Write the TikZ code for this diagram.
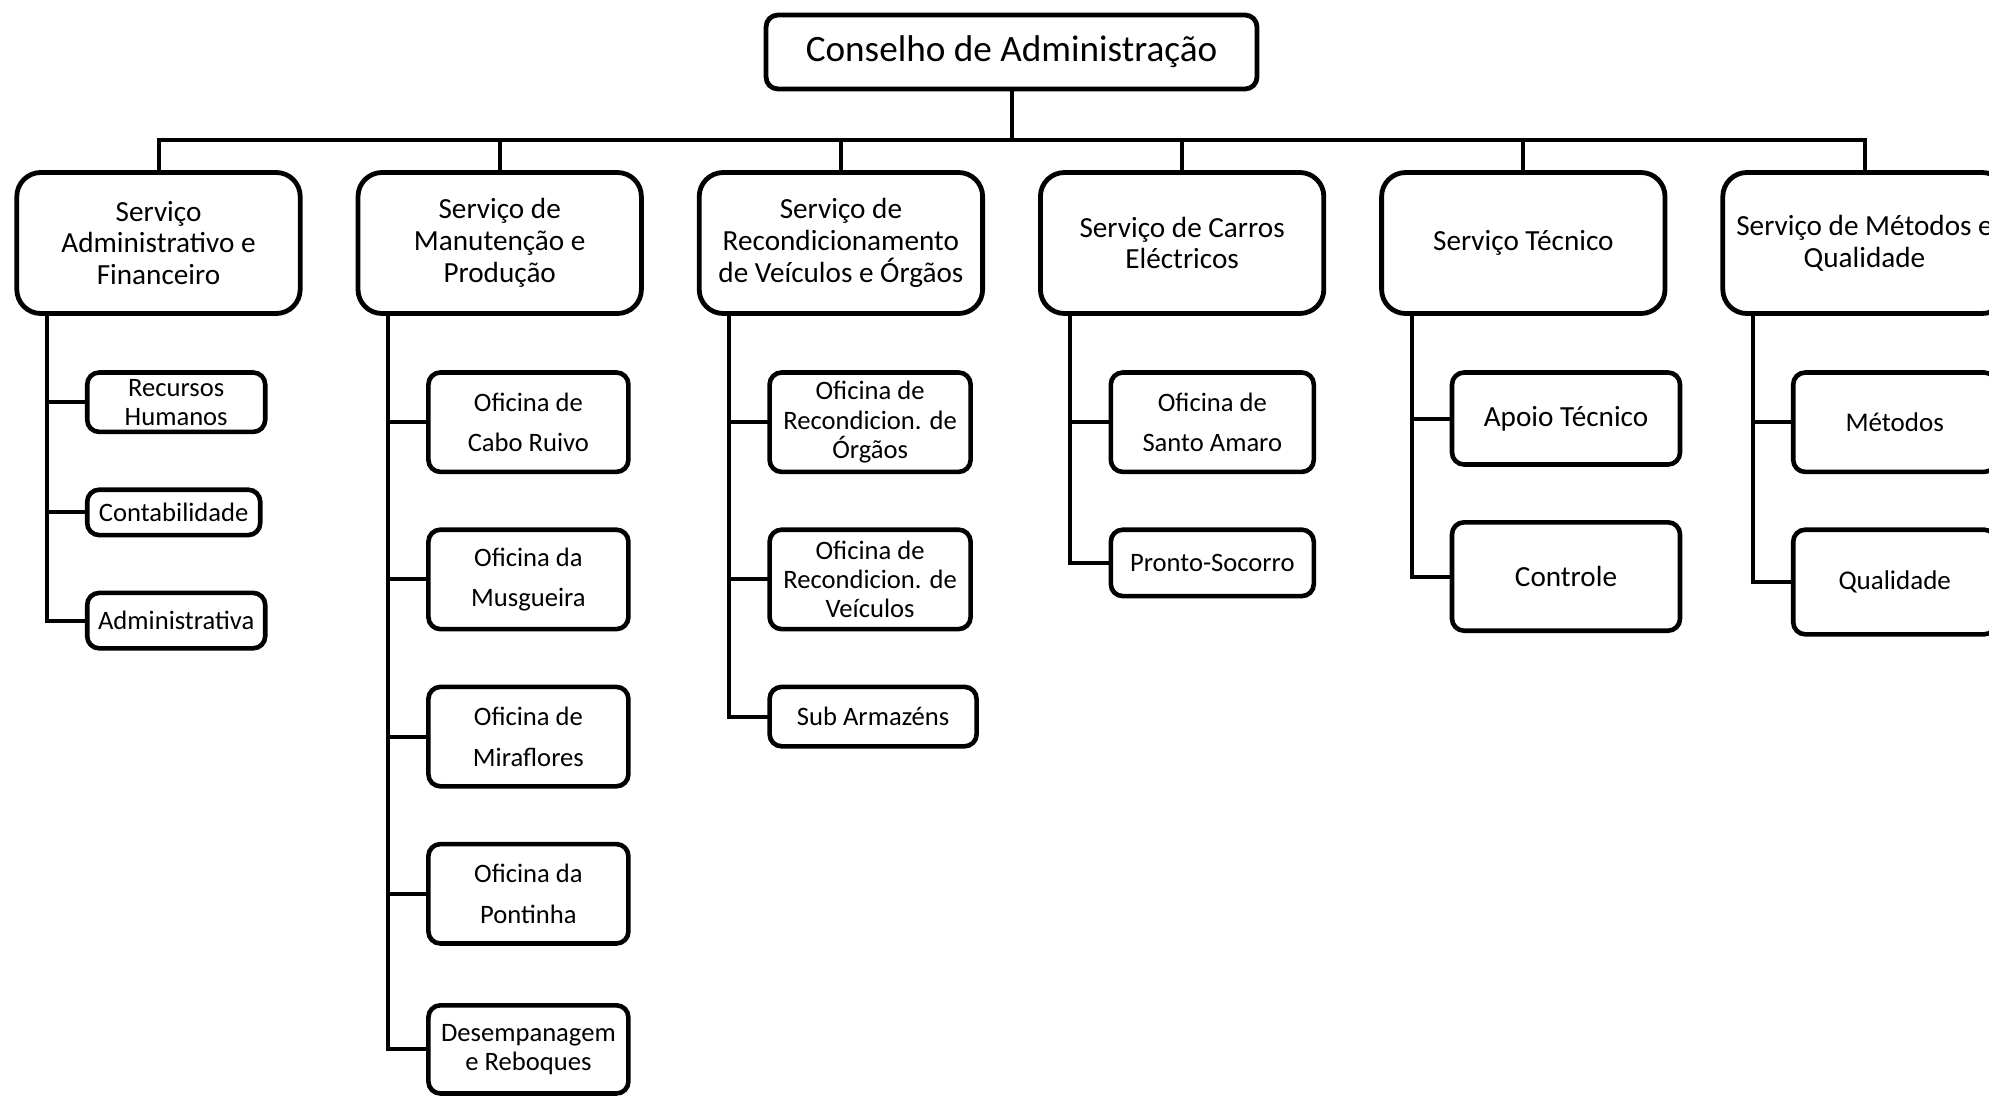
\documentclass[tikz,border=0pt]{standalone}
\usepackage{fontspec}
\setmainfont{Carlito}
\usetikzlibrary{positioning}

\begin{document}
\begin{tikzpicture}[x=1pt, y=1pt, node distance=28.9pt and 28.9pt,
every node/.style={align=center, outer sep=0pt},
chief/.style={draw, rounded corners=6pt, line width=2.4pt, minimum width=245.5pt, minimum height=37pt, font=\fontsize{18.6}{21}\selectfont},
svcbox/.style={draw, rounded corners=12pt, line width=2.4pt, minimum width=141.7pt, minimum height=70.5pt, inner sep=1pt, font=\fontsize{14.6}{15.9}\selectfont},
unitbox/.style={draw, rounded corners=6pt, line width=2.3pt, inner sep=1pt, font=\fontsize{13.3}{14.6}\selectfont},
link/.style={line width=2pt}]

  \useasboundingbox (0,0) rectangle (994.5,-548.5);

  % Board
  \node[chief] (board) at (505.75,-26) {Conselho de Administração};
  \coordinate (bus) at (505.75,-69.75);

  % Services
  \node[svcbox] (saf) at (79.25,-121.5) {Serviço\\Administrativo e\\Financeiro};
  \node[svcbox, right=of saf] (smp) {Serviço de\\Manutenção e\\Produção};
  \node[svcbox, right=of smp] (srv) {Serviço de\\Recondicionamento\\de Veículos e Órgãos};
  \node[svcbox, right=of srv] (sce) {Serviço de Carros\\Eléctricos};
  \node[svcbox, right=of sce] (stec) {Serviço Técnico};
  \node[svcbox, right=of stec] (smq) {Serviço de Métodos e\\Qualidade};

  % Administrativo e Financeiro
  \node[unitbox, minimum width=89pt, minimum height=29.7pt, below right=29.5pt and 35.2pt of saf.south west, anchor=north west] (rh) {Recursos\\Humanos};
  \node[unitbox, minimum width=86.5pt, minimum height=22.7pt, below=of rh.south west, anchor=north west] (cont) {Contabilidade};
  \node[unitbox, minimum width=89pt, minimum height=27.7pt, below=of cont.south west, anchor=north west] (admva) {Administrativa};

  % Manutencao e Producao
  \node[unitbox, minimum width=100pt, minimum height=49.7pt, below right=29.5pt and 35.2pt of smp.south west, anchor=north west] (cabo) {Oficina de\\[5.7pt]Cabo Ruivo};
  \node[unitbox, minimum width=100pt, minimum height=49.7pt, below=of cabo] (musg) {Oficina da\\[5.7pt]Musgueira};
  \node[unitbox, minimum width=100pt, minimum height=49.7pt, below=of musg] (mira) {Oficina de\\[5.7pt]Miraflores};
  \node[unitbox, minimum width=100pt, minimum height=49.7pt, below=of mira] (pont) {Oficina da\\[5.7pt]Pontinha};
  \node[unitbox, minimum width=100pt, minimum height=44.1pt, below=30.9pt of pont] (desemp) {Desempanagem\\e Reboques};

  % Recondicionamento
  \node[unitbox, minimum width=100.5pt, minimum height=49.7pt, below right=29.5pt and 35.2pt of srv.south west, anchor=north west] (rorg) {Oficina de\\Recondicion. de\\Órgãos};
  \node[unitbox, minimum width=100.5pt, minimum height=49.7pt, below=of rorg] (rveic) {Oficina de\\Recondicion. de\\Veículos};
  \node[unitbox, minimum width=103.5pt, minimum height=29.7pt, below=of rveic.south west, anchor=north west] (subarm) {Sub Armazéns};

  % Carros Electricos
  \node[unitbox, minimum width=101.5pt, minimum height=49.7pt, below right=29.5pt and 35.2pt of sce.south west, anchor=north west] (samaro) {Oficina de\\[5.7pt]Santo Amaro};
  \node[unitbox, minimum width=101.5pt, minimum height=33.2pt, below=of samaro] (psoc) {Pronto-Socorro};

  % Tecnico
  \node[unitbox, minimum width=114pt, minimum height=46pt, font=\fontsize{14.6}{16}\selectfont, below right=29.5pt and 35.2pt of stec.south west, anchor=north west] (apoio) {Apoio Técnico};
  \node[unitbox, minimum width=114pt, minimum height=54.2pt, font=\fontsize{14.6}{16}\selectfont, below=of apoio] (ctrl) {Controle};

  % Metodos e Qualidade
  \node[unitbox, minimum width=101.5pt, minimum height=49.7pt, font=\fontsize{13.5}{15}\selectfont, below right=29.5pt and 35.2pt of smq.south west, anchor=north west] (metod) {Métodos};
  \node[unitbox, minimum width=101.5pt, minimum height=52.3pt, font=\fontsize{13.5}{15}\selectfont, below=of metod] (qual) {Qualidade};

  % Connectors
  \foreach \s in {saf, smp, srv, sce, stec, smq}
    \draw[link] (board.south) -- (board.south |- bus) -| (\s.north);

  \foreach \s/\u in {saf/rh, saf/cont, saf/admva,
      smp/cabo, smp/musg, smp/mira, smp/pont, smp/desemp,
      srv/rorg, srv/rveic, srv/subarm,
      sce/samaro, sce/psoc,
      stec/apoio, stec/ctrl,
      smq/metod, smq/qual}
    \draw[link] ([xshift=15pt]\s.south west) |- (\u.west);

\end{tikzpicture}
\end{document}
